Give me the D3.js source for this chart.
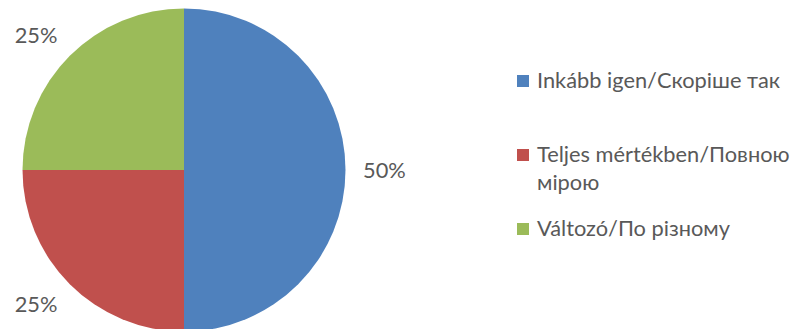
<!DOCTYPE html>
<html><head><meta charset="utf-8">
<script src="https://cdn.jsdelivr.net/npm/d3@7"></script>
<style>
html,body{margin:0;padding:0;background:#fff;}
svg text{font-family:Lato,"Open Sans",sans-serif;fill:#595959;}
</style></head>
<body>
<svg id="chart" width="802" height="329"></svg>
<script>
const categories = ["Inkább igen/Скоріше так", "Teljes mértékben/Повною мірою", "Változó/По різному"];
const legendLines = [["Inkább igen/Скоріше так"], ["Teljes mértékben/Повною", "мірою"], ["Változó/По різному"]];
const values = [50, 25, 25];
const labels = ["50%", "25%", "25%"];
const colors = ["#4F81BD", "#C0504D", "#9BBB59"];

const svg = d3.select("#chart");
const cx = 184, cy = 170, r = 161.5;
const fs = 21.8, cap = fs * 0.72;
const g = svg.append("g").attr("transform", `translate(${cx},${cy})`);
const pie = d3.pie().sort(null).value(d => d);
const arcs = pie(values);
const arc = d3.arc().innerRadius(0).outerRadius(r);
g.selectAll("path").data(arcs).join("path")
  .attr("d", arc).attr("fill", (d,i) => colors[i]);

// data labels placed outside: nearest box corner/edge sits at r+gap
const lr = r + 17.5;
g.selectAll("text.lbl").data(arcs).join("text").attr("class","lbl")
  .each(function(d, i) {
    const a = (d.startAngle + d.endAngle) / 2;
    const dx = Math.sin(a), dy = -Math.cos(a);
    const px = dx * lr, py = dy * lr;
    const anchor = dx < -0.1 ? "end" : dx > 0.1 ? "start" : "middle";
    const y = dy < -0.1 ? py : dy > 0.1 ? py + cap : py + cap / 2;
    d3.select(this).attr("x", px).attr("y", y).attr("text-anchor", anchor)
      .style("font-size", fs + "px").text(labels[i]);
  });

// legend
const lineH = 28;
const baselines = [88, 162, 236];
const leg = svg.append("g");
legendLines.forEach((lines, i) => {
  const y0 = baselines[i];
  leg.append("rect").attr("x", 517).attr("y", y0 - 13).attr("width", 12).attr("height", 12).attr("fill", colors[i]);
  const t = leg.append("text").attr("x", 537).attr("y", y0).style("font-size", fs + "px");
  lines.forEach((ln, j) => t.append("tspan").attr("x", 537).attr("y", y0 + j*lineH).text(ln));
});
</script>
</body></html>
